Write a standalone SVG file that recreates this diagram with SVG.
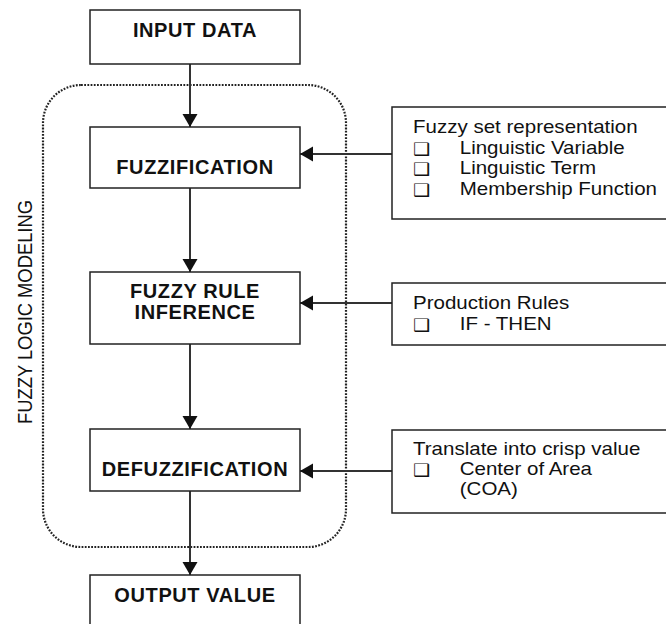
<svg xmlns="http://www.w3.org/2000/svg" width="666" height="624" viewBox="0 0 666 624">
<style>
.box{fill:#fff;stroke:#222;stroke-width:1.5}
.title{font-family:"Liberation Sans",Arial,sans-serif;font-weight:bold;font-size:20px;letter-spacing:0.6px;fill:#111;text-anchor:middle}
.note{font-family:"Liberation Sans",Arial,sans-serif;font-size:18px;fill:#111}
.bul{font-family:"DejaVu Sans",sans-serif;font-size:17px;fill:#111}
.conn{stroke:#333;stroke-width:2;fill:none;marker-end:url(#ah)}
.group{fill:none;stroke:#222;stroke-width:2.2;stroke-dasharray:1.8 1.4}
</style>
<defs>
<marker id="ah" markerUnits="userSpaceOnUse" markerWidth="14" markerHeight="16" refX="13" refY="7.5" orient="auto">
<path d="M0,0 L13,7.5 L0,15 z" fill="#111"/>
</marker>
</defs>
<rect width="666" height="624" fill="#fff"/>
<g id="fuzzy-logic-modeling">
<rect class="group" x="43" y="85" width="303" height="462" rx="38" ry="38"/>
<text class="note" transform="translate(32 312) rotate(-90) scale(1.02 1.14)" text-anchor="middle">FUZZY LOGIC MODELING</text>
</g>
<g id="connectors">
<line class="conn" x1="190" y1="64" x2="190" y2="127"/>
<line class="conn" x1="190" y1="188" x2="190" y2="272"/>
<line class="conn" x1="190" y1="344" x2="190" y2="429"/>
<line class="conn" x1="190" y1="491" x2="190" y2="575"/>
<line class="conn" x1="392" y1="154" x2="300" y2="154"/>
<line class="conn" x1="392" y1="303" x2="300" y2="303"/>
<line class="conn" x1="392" y1="471" x2="300" y2="471"/>
</g>
<g id="input-data">
<rect class="box" x="90" y="10" width="210" height="54"/>
<text class="title" x="195" y="37">INPUT DATA</text>
</g>
<g id="fuzzification">
<rect class="box" x="90" y="127" width="210" height="61"/>
<text class="title" x="195" y="174">FUZZIFICATION</text>
</g>
<g id="fuzzy-rule-inference">
<rect class="box" x="90" y="272" width="210" height="72"/>
<text class="title" x="195" y="298">FUZZY RULE</text>
<text class="title" x="195" y="319">INFERENCE</text>
</g>
<g id="defuzzification">
<rect class="box" x="90" y="429" width="210" height="62"/>
<text class="title" x="195" y="476">DEFUZZIFICATION</text>
</g>
<g id="output-value">
<rect class="box" x="90" y="575" width="210" height="60"/>
<text class="title" x="195" y="602">OUTPUT VALUE</text>
</g>
<g id="fuzzy-set-representation">
<rect class="box" x="392" y="107" width="290" height="112"/>
<g transform="translate(413 0) scale(1.14 1)">
<text class="note" x="0" y="133">Fuzzy set representation</text>
<text class="bul" x="0" y="155">❑</text>
<text class="note" x="41" y="154">Linguistic Variable</text>
<text class="bul" x="0" y="175">❑</text>
<text class="note" x="41" y="174">Linguistic Term</text>
<text class="bul" x="0" y="196">❑</text>
<text class="note" x="41" y="195">Membership Function</text>
</g>
</g>
<g id="production-rules">
<rect class="box" x="392" y="283" width="290" height="62"/>
<g transform="translate(413 0) scale(1.14 1)">
<text class="note" x="0" y="309">Production Rules</text>
<text class="bul" x="0" y="331">❑</text>
<text class="note" x="41" y="330">IF - THEN</text>
</g>
</g>
<g id="translate-crisp">
<rect class="box" x="392" y="430" width="290" height="83"/>
<g transform="translate(413 0) scale(1.14 1)">
<text class="note" x="0" y="455">Translate into crisp value</text>
<text class="bul" x="0" y="476">❑</text>
<text class="note" x="41" y="475">Center of Area</text>
<text class="note" x="41" y="495">(COA)</text>
</g>
</g>
</svg>
